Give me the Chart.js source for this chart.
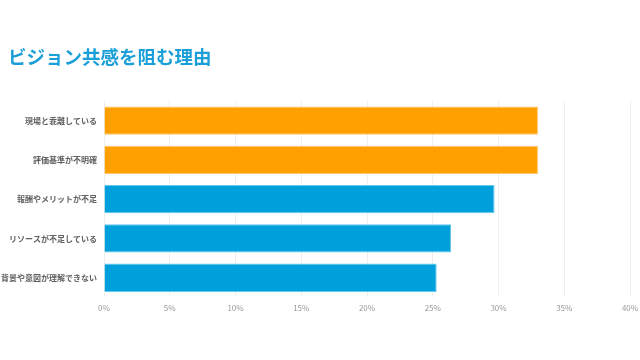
<!DOCTYPE html>
<html>
<head>
<meta charset="utf-8">
<script src="https://cdn.jsdelivr.net/npm/chart.js@4"></script>
<style>
    html, body { margin: 0; padding: 0; background: #fff; }
    #wrap { width: 640px; height: 360px; }
</style>
</head>
<body>
<div id="wrap"><canvas id="reason-chart"></canvas></div>
<script>
const chartTitle = 'ビジョン共感を阻む理由';
const labels = ['現場と乖離している', '評価基準が不明確', '報酬やメリットが不足', 'リソースが不足している', '背景や意図が理解できない'];
const values = [33.0, 33.0, 29.7, 26.4, 25.3];
const barColors = ['#ffa000', '#ffa000', '#00a0dc', '#00a0dc', '#00a0dc'];
const borderColors = ['#ffc866', '#ffc866', '#66c8ee', '#66c8ee', '#66c8ee'];
const tickValues = [0, 5, 10, 15, 20, 25, 30, 35, 40];

// title sits at the far left, outside the chart's own title box
const leftTitle = {
    id: 'leftTitle',
    afterDraw(chart) {
        const c = chart.ctx;
        c.save();
        c.font = 'bold 18.5px "Noto Sans CJK JP"';
        c.fillStyle = '#1a9fd9';
        c.textAlign = 'left';
        c.textBaseline = 'middle';
        c.fillText(chartTitle, 8, 57);
        c.restore();
    }
};

const ctx = document.getElementById('reason-chart');
new Chart(ctx, {
    type: 'bar',
    data: {
        labels: labels,
        datasets: [{
            data: values,
            backgroundColor: barColors,
            borderColor: borderColors,
            borderWidth: 1,
            barPercentage: 0.72,
            categoryPercentage: 1
        }]
    },
    options: {
        indexAxis: 'y',
        responsive: true,
        maintainAspectRatio: false,
        animation: false,
        layout: { padding: { left: 0, right: 0, top: 101, bottom: 41 } },
        plugins: {
            legend: { display: false },
            tooltip: { enabled: false },
            title: { display: false }
        },
        scales: {
            x: {
                min: 0,
                max: 40,
                afterBuildTicks: (axis) => {
                    axis.ticks = tickValues.map(v => ({ value: v }));
                },
                afterFit: (axis) => { axis.paddingRight = 10; },
                grid: { color: '#eeeeee', drawTicks: false },
                border: { display: false },
                ticks: {
                    color: '#999999',
                    padding: 6,
                    font: { family: 'Noto Sans CJK JP', size: 8 },
                    callback: (v) => v + '%'
                }
            },
            y: {
                afterFit: (axis) => { axis.width = 104; },
                grid: { display: false, drawTicks: false },
                border: { display: false },
                ticks: {
                    color: '#606060',
                    padding: 7,
                    font: { family: 'Noto Sans CJK JP', size: 8, weight: 'bold' }
                }
            }
        }
    },
    plugins: [leftTitle]
});
</script>
</body>
</html>
